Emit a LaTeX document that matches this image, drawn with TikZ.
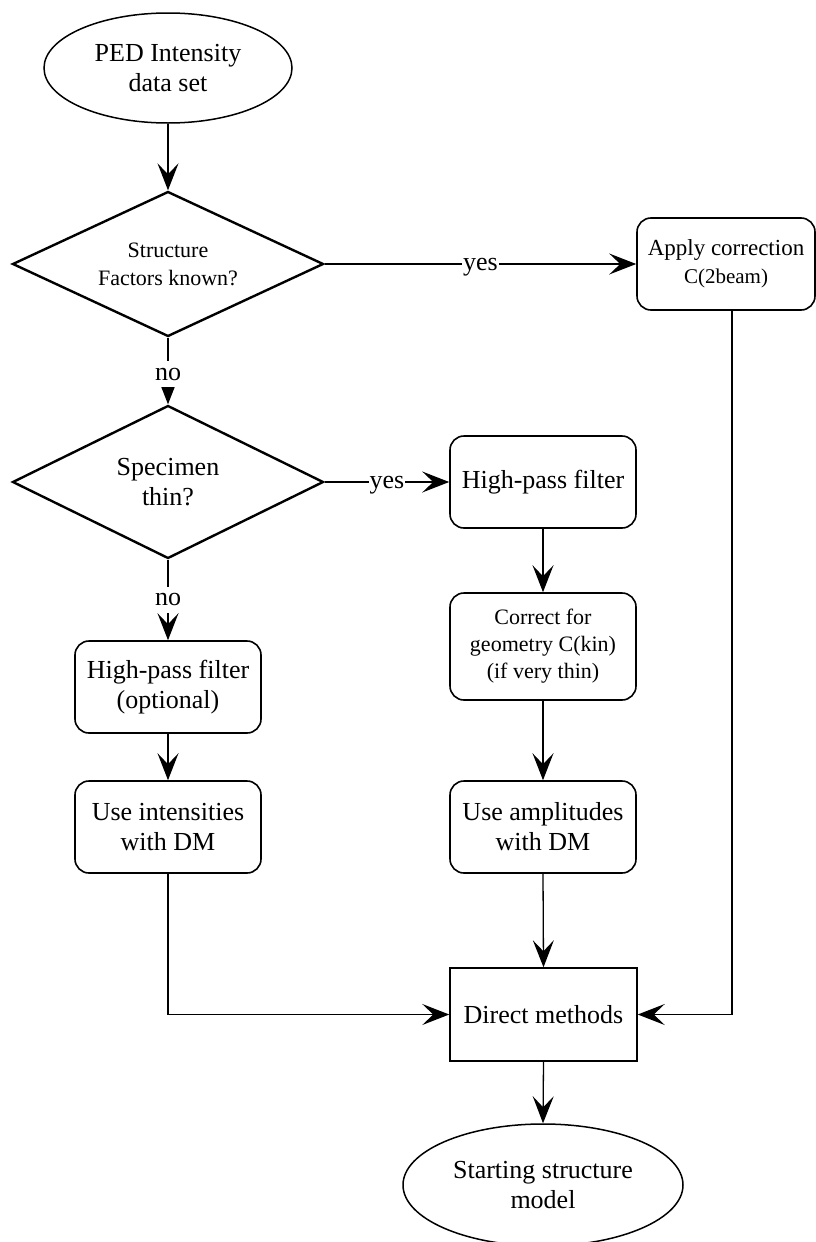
\documentclass[tikz,border=0pt]{standalone}
\usepackage{fontspec}
\setmainfont{Liberation Serif}
\usetikzlibrary{shapes.geometric,arrows.meta,calc}
\begin{document}
\begin{tikzpicture}[x=1pt,y=-1pt,
  every node/.style={align=center, text=black},
  bigfont/.style={font=\fontsize{26}{30}\selectfont},
  smallfont/.style={font=\fontsize{22}{28}\selectfont},
  terminal/.style={ellipse, draw, line width=1.5pt, inner sep=0pt, bigfont},
  decision/.style={diamond, draw, line width=2.4pt, inner sep=0pt},
  procbox/.style={rectangle, rounded corners=14pt, draw, line width=1.6pt, minimum width=186pt, inner sep=0pt},
  plainbox/.style={rectangle, draw, line width=1.5pt, inner sep=0pt},
  arr/.style={line width=1.3pt, -{Stealth[length=27pt,width=21pt,inset=11pt]}},
  lbl/.style={fill=white, inner sep=1pt, text height=18pt, text depth=6pt, bigfont},
]
\useasboundingbox (0,0) rectangle (816,1242);

\node[terminal, minimum width=248pt, minimum height=110pt] (ped) at (168,68) {PED Intensity\\data set};
\node[decision, smallfont, minimum width=311pt, minimum height=145pt, aspect=2.15] (sf) at (168,264) {Structure\\Factors known?};
\node[procbox, font=\fontsize{23}{28}\selectfont, minimum width=178pt, minimum height=92pt] (ac) at (726,264) {Apply correction\\{\fontsize{21}{24}\selectfont C(2beam)}};
\node[decision, bigfont, minimum width=311pt, minimum height=153pt, aspect=2.03] (st) at (168,482) {Specimen\\thin?};
\node[procbox, bigfont, minimum height=92pt] (hp1) at (543,482) {High-pass filter};
\node[procbox, font=\fontsize{22}{27}\selectfont, minimum height=107pt] (cg) at (543,646.5) {Correct for\\geometry C(kin)\\(if very thin)};
\node[procbox, bigfont, minimum height=92pt] (ua) at (543,827) {Use amplitudes\\with DM};
\node[procbox, bigfont, minimum height=92pt] (hp2) at (168,687) {High-pass filter\\(optional)};
\node[procbox, bigfont, minimum height=92pt] (ui) at (168,827) {Use intensities\\with DM};
\node[plainbox, bigfont, minimum width=187pt, minimum height=93pt] (dm) at (543.5,1014.5) {Direct methods};
\node[terminal, minimum width=280pt, minimum height=122pt] (ssm) at (543,1185) {Starting structure\\model};
\coordinate (rx) at (732,0);

\draw[arr] (ped.south) -- (sf.north);
\draw[arr] (sf.east) -- node[lbl]{yes} (ac.west);
\draw[arr] (sf.south) -- node[lbl, pos=0.55]{no} (st.north);
\draw[arr] (st.east) -- node[lbl]{yes} (hp1.west);
\draw[arr] (st.south) -- node[lbl]{no} (hp2.north);
\draw[arr] (hp1.south) -- (cg.north);
\draw[arr] (cg.south) -- (ua.north);
\draw[arr] (hp2.south) -- (ui.north);
\draw[arr] (ua.south) -- (dm.north);
\draw[arr] (ui.south) |- (dm.west);
\draw[arr] (ac.south -| rx) |- (dm.east);
\draw[arr] (dm.south) -- (ssm.north);
\end{tikzpicture}
\end{document}
